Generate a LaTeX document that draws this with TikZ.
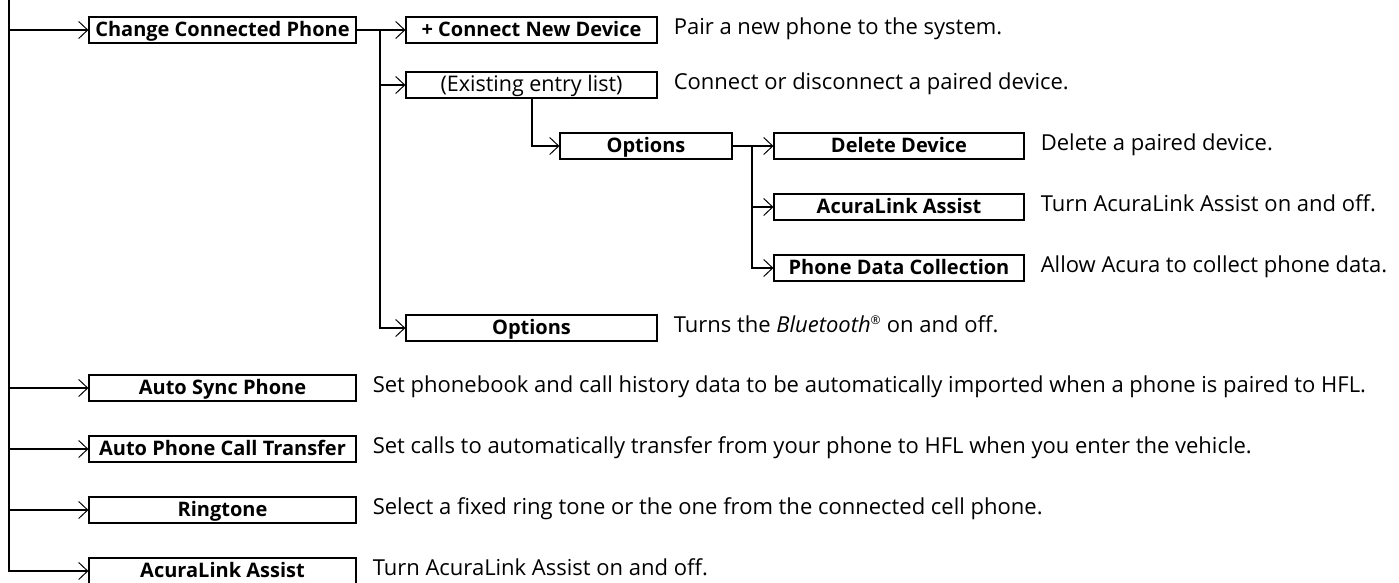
\documentclass[tikz,border=0pt]{standalone}
\usepackage{fontspec}
\setmainfont{Open Sans}
\usetikzlibrary{arrows.meta,positioning}

\begin{document}
\begin{tikzpicture}[x=1pt,y=-1pt,
  menu/.style={draw, line width=1.2pt, minimum height=26pt, inner sep=0pt,
    text height=16pt, text depth=4pt, font=\bfseries\fontsize{20}{24}\selectfont},
  desc/.style={inner sep=0pt, text height=15pt, text depth=6pt,
    font=\fontsize{22}{26}\selectfont},
  link/.style={line width=2pt, -{Straight Barb[length=9pt,width=17pt,line width=1pt]}}]
\clip (0,0) rectangle (1399,582);

% menu boxes
\node[menu, minimum width=267pt] (ccp)   at (222.5,30)  {Change Connected Phone};
\node[menu, minimum width=251pt] (cnd)   at (531.5,30)  {+ Connect New Device};
\node[menu, minimum width=251pt, font=\fontsize{21.5}{25}\selectfont] (exist) at (531.5,85) {(Existing entry list)};
\node[menu, minimum width=172pt] (opt)   at (646,146)   {Options};
\node[menu, minimum width=250pt] (del)   at (899,146)   {Delete Device};
\node[menu, minimum width=250pt] (ala)   at (899,207)   {AcuraLink Assist};
\node[menu, minimum width=250pt] (pdc)   at (899,268)   {Phone Data Collection};
\node[menu, minimum width=251pt] (bt)    at (531.5,328) {Options};
\node[menu, minimum width=267pt] (sync)  at (222.5,388) {Auto Sync Phone};
\node[menu, minimum width=267pt] (xfer)  at (222.5,449) {Auto Phone Call Transfer};
\node[menu, minimum width=267pt] (ring)  at (222.5,510) {Ringtone};
\node[menu, minimum width=267pt] (ala2)  at (222.5,571) {AcuraLink Assist};

% descriptions
\node[desc, right=16pt of cnd]   (dcnd)   {Pair a new phone to the system.};
\node[desc, right=16pt of exist] (dexist) {Connect or disconnect a paired device.};
\node[desc, right=16pt of del]   (ddel)   {Delete a paired device.};
\node[desc, right=16pt of ala]   (dala)   {Turn AcuraLink Assist on and off.};
\node[desc, right=16pt of pdc]   (dpdc)   {Allow Acura to collect phone data.};
\node[desc, right=16pt of bt]    (dbt)    {Turns the \textit{Bluetooth}\textsuperscript{\fontsize{12}{12}\selectfont ®} on and off.};
\node[desc, right=16pt of sync]  (dsync)  {Set phonebook and call history data to be automatically imported when a phone is paired to HFL.};
\node[desc, right=16pt of xfer]  (dxfer)  {Set calls to automatically transfer from your phone to HFL when you enter the vehicle.};
\node[desc, right=16pt of ring]  (dring)  {Select a fixed ring tone or the one from the connected cell phone.};
\node[desc, right=16pt of ala2]  (dala2)  {Turn AcuraLink Assist on and off.};

% connectors
\coordinate (trunk) at (9,-5);
\coordinate (j1) at (380,30);
\coordinate (j2) at (752,146);
\foreach \n in {ccp,sync,xfer,ring,ala2}
  \draw[link] (trunk) |- (\n.west);
\draw[link] (ccp.east) -- (cnd.west);
\foreach \n in {exist,bt}
  \draw[link] (j1) |- (\n.west);
\draw[link] (exist.south) |- (opt.west);
\draw[link] (opt.east) -- (del.west);
\foreach \n in {ala,pdc}
  \draw[link] (j2) |- (\n.west);
\end{tikzpicture}
\end{document}
